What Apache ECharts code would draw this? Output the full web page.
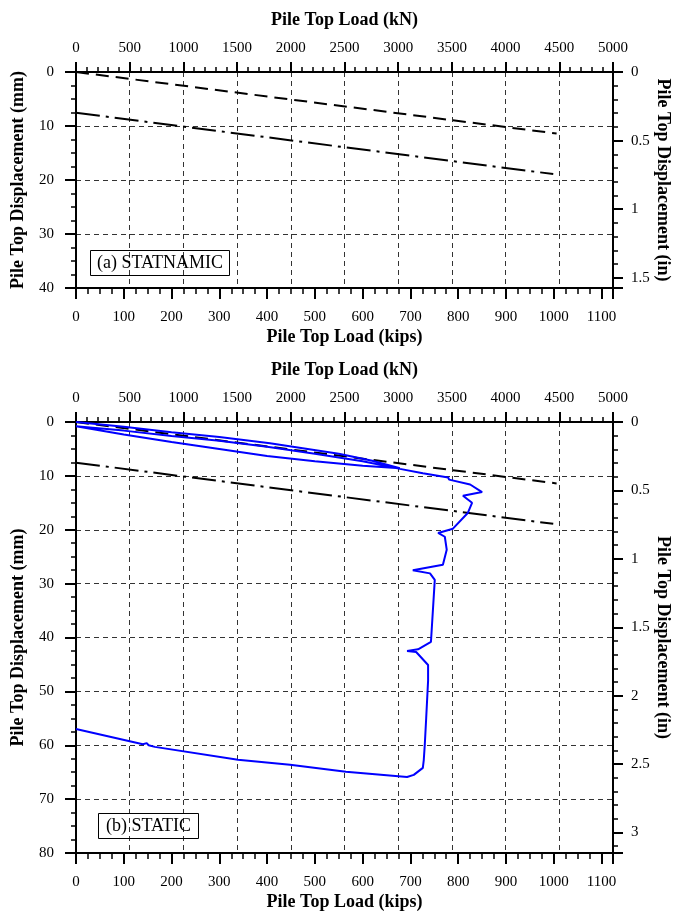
<!DOCTYPE html>
<html>
<head>
<meta charset="utf-8">
<script src="https://cdn.jsdelivr.net/npm/echarts@6/dist/echarts.min.js"></script>
<style>
  html, body { margin: 0; padding: 0; background: #fff; }
  #container { width: 673px; height: 911px; }
</style>
</head>
<body>
<div id="container"></div>
<script>
const dom = document.getElementById("container");
const myChart = echarts.init(dom);

// load in kips, displacement in mm
const dashedLine = [[0, 0], [1006, 11.4]];
const dashDotLine = [[0, 7.55], [999, 18.9]];

const staticCurve = [
  [0, 0], [100, 0.9], [200, 1.9], [300, 2.8], [406, 3.96], [454, 4.6], [550, 5.9], [620, 7.2], [678, 8.6], [680, 8.9],
  [600, 8.1], [500, 7.3], [400, 6.3], [300, 5.0], [200, 3.7], [100, 2.3], [0, 0.8],
  [100, 1.6], [200, 2.6], [300, 3.5], [400, 4.6], [500, 5.9], [600, 7.3], [678, 8.7],
  [726, 9.5], [779, 10.3], [781, 10.7], [825, 11.6], [828, 11.9], [850, 13.0], [810, 13.7],
  [829, 15.0], [820, 16.9], [789, 19.8], [758, 20.6], [772, 21.3], [776, 23.7], [768, 26.5],
  [705, 27.5], [741, 28.1], [751, 29.3], [743, 40.8], [716, 42.2], [693, 42.5], [712, 42.7],
  [737, 45.1], [737, 48], [733, 55], [730, 60], [728, 62.7], [726, 64.2], [707, 65.5], [693, 65.9],
  [565, 64.9], [448, 63.6], [339, 62.7], [165, 60.3], [152, 60.0], [148, 59.6], [140, 59.8], [0, 57.0]
];

const panelLabels = ['(a) STATNAMIC', '(b) STATIC'];
const mmMax = [40, 80];

const KN_PER_KIP = 4.44822;
const MM_PER_IN = 25.4;
const font = 'Liberation Serif';

const plain = v => String(v);
const labelStyle = { color: '#000', fontSize: 15, fontFamily: font, formatter: plain };
const nameStyle = { color: '#000', fontSize: 18, fontWeight: 'bold', fontFamily: font };
const axisLine = { onZero: false, lineStyle: { color: '#000', width: 2 } };
const gridDash = { color: '#333', width: 1, type: [5, 4] };

const kipsAxis = g => ({
  type: 'value', gridIndex: g, position: 'bottom',
  min: 0, max: 5000 / KN_PER_KIP, interval: 100,
  name: 'Pile Top Load (kips)', nameLocation: 'middle', nameGap: 40, nameMoveOverlap: false, nameTextStyle: nameStyle,
  axisLine: axisLine,
  axisTick: { length: 11, lineStyle: { color: '#000', width: 2 } },
  minorTick: { show: true, splitNumber: 4, length: 6, lineStyle: { color: '#000', width: 1.5 } },
  axisLabel: Object.assign({ margin: 22, showMaxLabel: false }, labelStyle),
  splitLine: { show: false }
})

const knAxis = g => ({
  type: 'value', gridIndex: g, position: 'top',
  min: 0, max: 5000, interval: 500,
  name: 'Pile Top Load (kN)', nameLocation: 'middle', nameGap: 43, nameMoveOverlap: false, nameTextStyle: nameStyle,
  axisLine: axisLine,
  axisTick: { length: 10, lineStyle: { color: '#000', width: 2 } },
  minorTick: { show: true, splitNumber: 5, length: 5, lineStyle: { color: '#000', width: 1.5 } },
  axisLabel: Object.assign({ margin: 16 }, labelStyle),
  splitLine: { show: true, lineStyle: gridDash }
})

const mmAxis = (g, max) => ({
  type: 'value', gridIndex: g, position: 'left', inverse: true,
  min: 0, max: max, interval: 10,
  name: 'Pile Top Displacement (mm)', nameLocation: 'middle', nameGap: 49, nameRotate: 90, nameMoveOverlap: false, nameTextStyle: nameStyle,
  axisLine: axisLine,
  axisTick: { length: 11, lineStyle: { color: '#000', width: 2 } },
  minorTick: { show: true, splitNumber: 4, length: 5, lineStyle: { color: '#000', width: 1.5 } },
  axisLabel: Object.assign({ margin: 22 }, labelStyle),
  splitLine: { show: true, lineStyle: gridDash }
})

const inAxis = (g, max) => ({
  type: 'value', gridIndex: g, position: 'right', inverse: true,
  min: 0, max: max / MM_PER_IN, interval: 0.5,
  name: 'Pile Top Displacement (in)', nameLocation: 'middle', nameGap: 41, nameRotate: -90, nameMoveOverlap: false, nameTextStyle: nameStyle,
  axisLine: axisLine,
  axisTick: { length: 10, lineStyle: { color: '#000', width: 2 } },
  minorTick: { show: true, splitNumber: 5, length: 5, lineStyle: { color: '#000', width: 1.5 } },
  axisLabel: Object.assign({ margin: 18, showMaxLabel: false }, labelStyle),
  splitLine: { show: false }
})

const refLines = (x, y) => [
  {
    type: 'line', xAxisIndex: x, yAxisIndex: y, data: dashedLine,
    showSymbol: false, silent: true,
    lineStyle: { color: '#000', width: 2, type: [13, 7] }
  },
  {
    type: 'line', xAxisIndex: x, yAxisIndex: y, data: dashDotLine,
    showSymbol: false, silent: true,
    lineStyle: { color: '#000', width: 2, type: [24, 6, 3, 6] }
  }
]

const boxTitle = (text, left, top, pad) => ({
  text: text, left: left, top: top,
  borderColor: '#000', borderWidth: 1, padding: pad,
  textStyle: { color: '#000', fontSize: 18, fontWeight: 'normal', fontFamily: font }
})

const option = {
  animation: false,
  backgroundColor: '#fff',
  title: [
    boxTitle(panelLabels[0], 90, 250, [4, 7]),
    boxTitle(panelLabels[1], 98, 813, [4, 8])
  ],
  grid: [
    { left: 76, top: 72, width: 537, height: 216, outerBoundsMode: 'none' },
    { left: 76, top: 422, width: 537, height: 431, outerBoundsMode: 'none' }
  ],
  xAxis: [kipsAxis(0), knAxis(0), kipsAxis(1), knAxis(1)],
  yAxis: [mmAxis(0, mmMax[0]), inAxis(0, mmMax[0]), mmAxis(1, mmMax[1]), inAxis(1, mmMax[1])],
  series: [
    ...refLines(0, 0),
    ...refLines(2, 2),
    {
      type: 'line', xAxisIndex: 2, yAxisIndex: 2, data: staticCurve,
      showSymbol: false, silent: true,
      lineStyle: { color: '#0000ff', width: 2 }
    }
  ]
};

myChart.setOption(option);
</script>
</body>
</html>
